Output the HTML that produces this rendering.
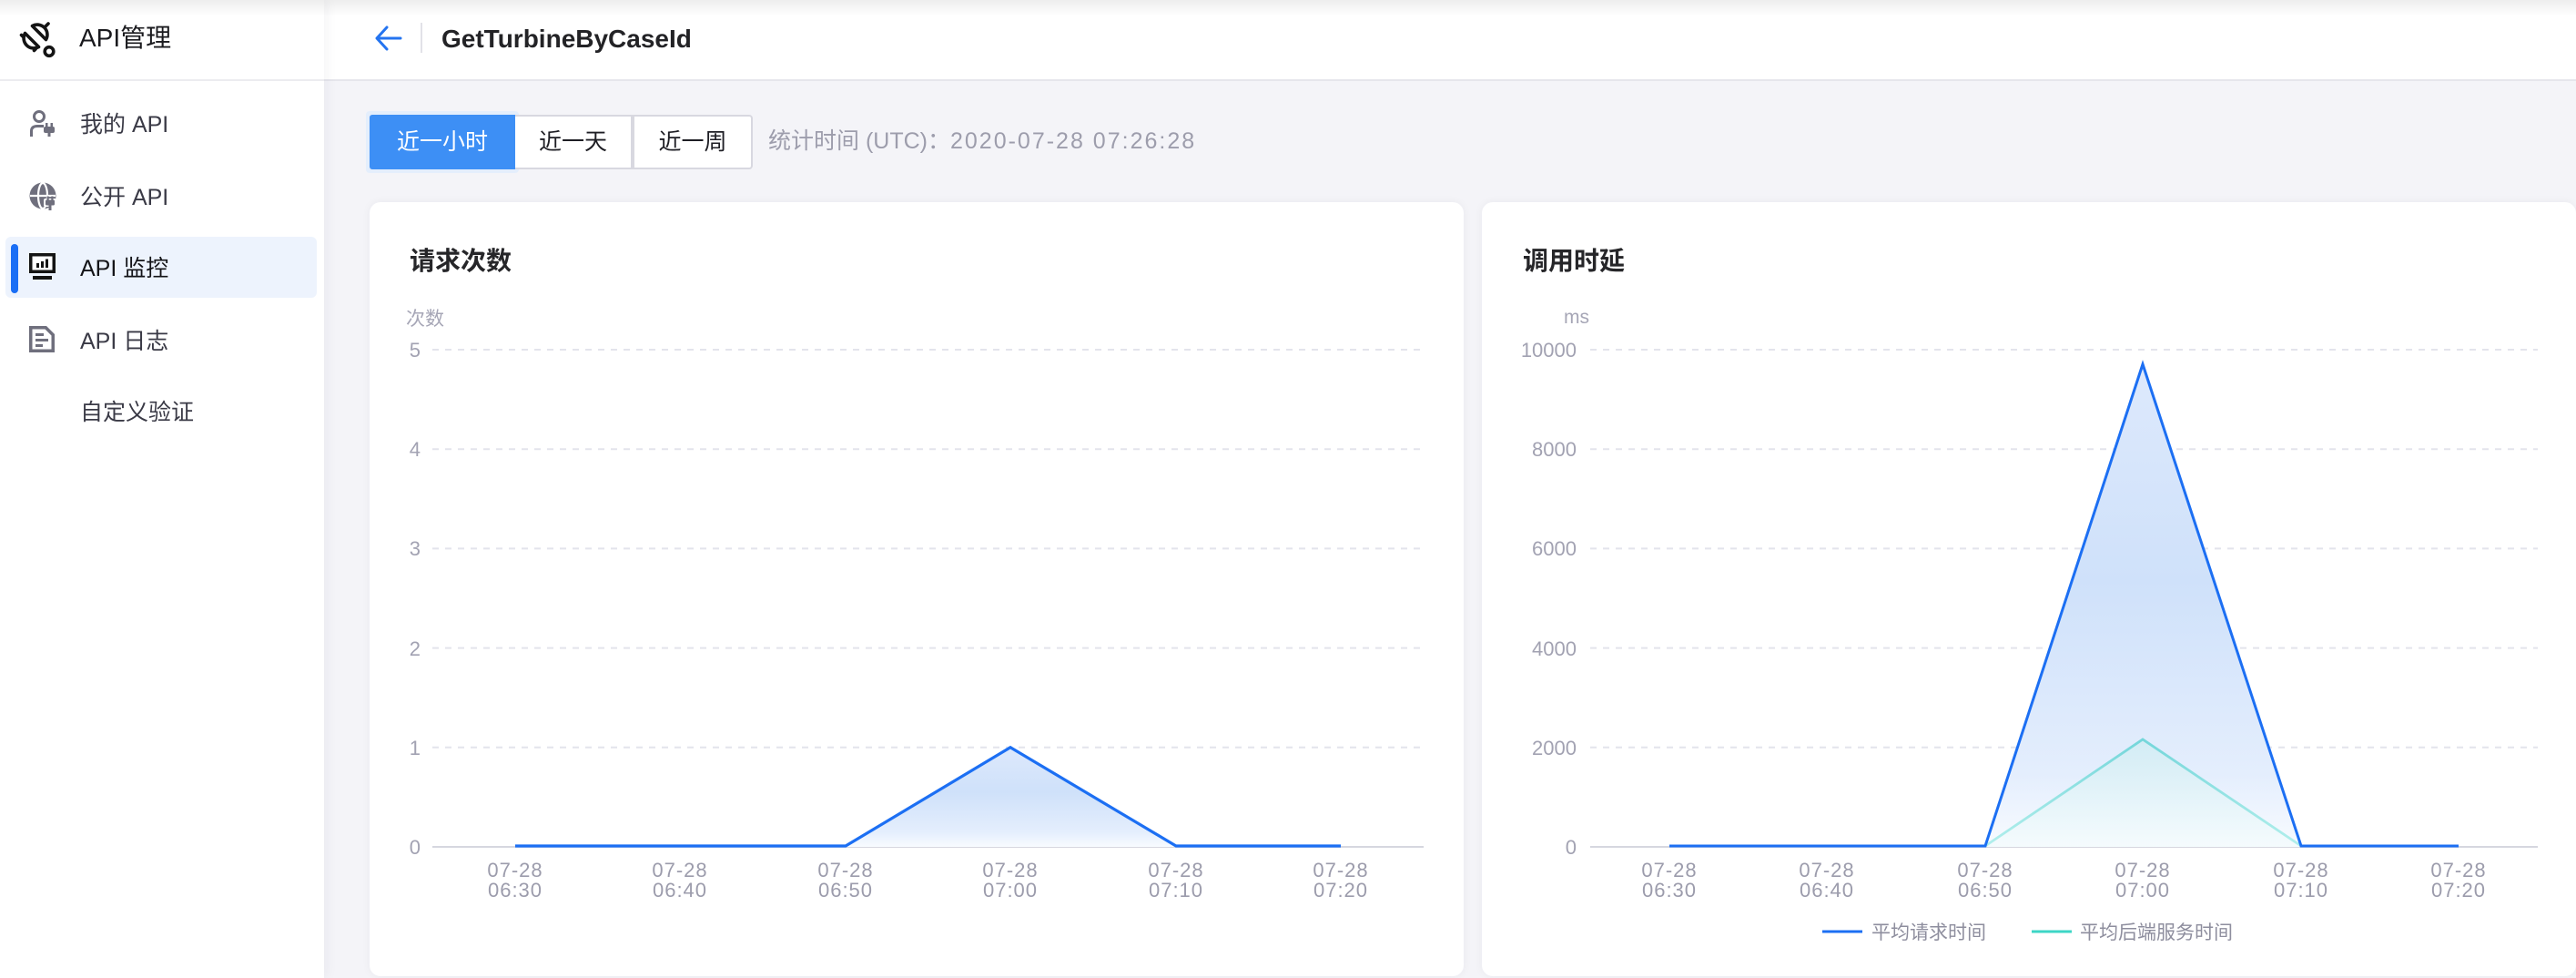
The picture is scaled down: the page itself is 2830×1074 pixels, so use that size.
<!DOCTYPE html>
<html><head><meta charset="utf-8">
<style>
*{box-sizing:border-box;margin:0;padding:0}
html,body{width:2830px;height:1074px;overflow:hidden;background:#f4f4f8;font-family:"Liberation Sans","Noto Sans CJK SC",sans-serif;position:relative}
.abs{position:absolute}
#side{left:0;top:0;width:356px;height:1074px;background:#fff;box-shadow:3px 0 12px rgba(30,30,70,0.05);z-index:2}
#logo{left:0;top:0;width:356px;height:89px;border-bottom:2px solid #ececf0}
#hdr{left:356px;top:0;width:2474px;height:89px;background:#fff;border-bottom:2px solid #e6e6ec;z-index:1}
#topsh{left:0;top:0;width:2830px;height:18px;background:linear-gradient(rgba(0,0,0,0.07),rgba(0,0,0,0));z-index:5}
.mi{position:absolute;left:88px;font-size:25px;color:#3a3a46;line-height:30px;white-space:nowrap}
.ic{position:absolute;left:32px}
.btn{position:absolute;top:126px;height:60px;line-height:56px;font-size:25px;text-align:center;color:#1e1e24;background:#fff;border:2px solid #d8d8e0}
.card{position:absolute;top:222px;width:1202px;height:850px;background:#fff;border-radius:12px;box-shadow:0 0 10px rgba(20,20,60,0.05)}
.ttl{position:absolute;top:270px;font-size:28px;font-weight:bold;color:#262629;line-height:34px;white-space:nowrap}
</style></head>
<body>
<div id="topsh" class="abs"></div>
<div id="side" class="abs">
  <div id="logo" class="abs">
    <svg class="abs" style="left:21px;top:22px" width="42" height="42" viewBox="0 0 42 42">
      <g fill="none" stroke="#141414" stroke-width="3.6" stroke-linejoin="round" stroke-linecap="round">
        <path d="M6.5 14.5 A11 11 0 0 0 21.5 29.5 Z"/>
        <path d="M14.5 6.5 A11 11 0 0 1 29.5 21.5 Z"/>
        <path d="M28 8 L32 4"/>
        <circle cx="33" cy="34.5" r="4.8"/>
        <path d="M4 18 L2.5 16.5 M18 32 L16.5 33.5"/>
      </g>
    </svg>
    <div class="abs" style="left:87px;top:26px;font-size:28px;line-height:32px;color:#1a1a1e;white-space:nowrap">API管理</div>
  </div>

  <svg class="ic" style="top:120px" width="30" height="30" viewBox="0 0 30 30">
    <circle cx="11" cy="8" r="5.5" fill="none" stroke="#6f6f7d" stroke-width="3"/>
    <path d="M2.5 30 V24 Q2.5 18.5 9 18.5 H16" fill="none" stroke="#6f6f7d" stroke-width="3"/>
    <rect x="16" y="19" width="12" height="7" rx="2" fill="#6f6f7d"/>
    <rect x="18" y="15" width="2.5" height="5" fill="#6f6f7d"/>
    <rect x="23.5" y="15" width="2.5" height="5" fill="#6f6f7d"/>
    <rect x="20.5" y="25" width="3" height="5" fill="#6f6f7d"/>
  </svg>
  <div class="mi" style="top:122px">我的 API</div>

  <svg class="ic" style="top:200px" width="31" height="31" viewBox="0 0 31 31">
    <circle cx="15" cy="15" r="14.5" fill="#6f6f7d"/>
    <ellipse cx="15" cy="15" rx="5" ry="14" fill="none" stroke="#fff" stroke-width="2.2"/>
    <path d="M1 15 H29" stroke="#fff" stroke-width="2.2"/>
    <rect x="16" y="18" width="14" height="9" rx="2" fill="#fff"/>
    <rect x="18" y="19.5" width="10" height="6" rx="1.5" fill="#6f6f7d"/>
    <rect x="19.5" y="15.5" width="2.2" height="4.5" fill="#6f6f7d"/>
    <rect x="24.3" y="15.5" width="2.2" height="4.5" fill="#6f6f7d"/>
    <rect x="21.5" y="25" width="3" height="6" fill="#6f6f7d"/>
  </svg>
  <div class="mi" style="top:202px">公开 API</div>

  <div class="abs" style="left:6px;top:260px;width:342px;height:67px;background:#edf3fd;border-radius:6px"></div>
  <div class="abs" style="left:12px;top:268px;width:8px;height:54px;background:#1a6ef5;border-radius:4px"></div>
  <svg class="ic" style="top:278px" width="29" height="29" viewBox="0 0 29 29">
    <rect x="0" y="0" width="29" height="22" fill="#141414"/>
    <rect x="3.5" y="3.5" width="22" height="15" fill="#fff"/>
    <rect x="8" y="11" width="3" height="5" fill="#141414"/>
    <rect x="13" y="9" width="3" height="7" fill="#141414"/>
    <rect x="18" y="6.5" width="3" height="9.5" fill="#141414"/>
    <rect x="4" y="25" width="21" height="4" fill="#141414"/>
  </svg>
  <div class="mi" style="top:280px;color:#141418">API 监控</div>

  <svg class="ic" style="top:358px" width="29" height="29" viewBox="0 0 29 29">
    <path d="M0 0 H19 L28 9 V29 H0 Z" fill="#6f6f7d"/>
    <path d="M3.5 3.5 H17.5 L24.5 10.5 V25.5 H3.5 Z" fill="#fff"/>
    <rect x="7" y="8" width="9" height="3" fill="#6f6f7d"/>
    <rect x="7" y="14" width="14" height="3" fill="#6f6f7d"/>
    <rect x="7" y="20" width="8" height="3" fill="#6f6f7d"/>
  </svg>
  <div class="mi" style="top:360px">API 日志</div>

  <div class="mi" style="top:438px">自定义验证</div>
</div>

<div id="hdr" class="abs">
  <svg class="abs" style="left:55px;top:27px" width="32" height="30" viewBox="0 0 32 30">
    <path d="M14 3 L3 15 L14 27 M3 15 H29" fill="none" stroke="#2474f0" stroke-width="3" stroke-linecap="round" stroke-linejoin="round"/>
  </svg>
  <div class="abs" style="left:106px;top:25px;width:2px;height:33px;background:#e2e2e8"></div>
  <div class="abs" style="left:129px;top:26px;font-size:28px;line-height:34px;font-weight:bold;color:#232326;white-space:nowrap">GetTurbineByCaseId</div>
</div>

<div class="abs" style="left:402px;top:122px;width:168px;height:68px;background:#e4eefc;border-radius:4px"></div>
<div class="abs" style="left:406px;top:126px;width:160px;height:60px;background:#3d8ff5;border-radius:3px 0 0 3px;color:#fff;font-size:25px;line-height:60px;text-align:center">近一小时</div>
<div class="btn" style="left:566px;width:129px;border-left:none">近一天</div>
<div class="btn" style="left:695px;width:132px;border-radius:0 4px 4px 0">近一周</div>
<div class="abs" style="left:844px;top:140px;font-size:25px;line-height:30px;color:#9d9dac;white-space:nowrap">统计时间 (UTC)：<span style="letter-spacing:2px">2020-07-28 07:26:28</span></div>

<div class="card" style="left:406px"></div>
<div class="card" style="left:1628px"></div>
<div class="ttl" style="left:450px">请求次数</div>
<div class="ttl" style="left:1673px">调用时延</div>

<svg class="abs" style="left:0;top:0;z-index:3" width="2830" height="1074" viewBox="0 0 2830 1074">
  <defs>
    <linearGradient id="gb" x1="0" y1="0" x2="0" y2="1">
      <stop offset="0" stop-color="#dde9fc"/>
      <stop offset="0.45" stop-color="#cfe1fa"/>
      <stop offset="0.85" stop-color="#e4eefd"/>
      <stop offset="1" stop-color="#f8fbff"/>
    </linearGradient>
    <linearGradient id="gt" x1="0" y1="0" x2="0" y2="1">
      <stop offset="0" stop-color="#d0ecf3"/>
      <stop offset="1" stop-color="#f4fbfd"/>
    </linearGradient>
    <linearGradient id="st" gradientUnits="userSpaceOnUse" x1="0" y1="812" x2="0" y2="930">
      <stop offset="0" stop-color="#74d6da"/>
      <stop offset="1" stop-color="#b2efec"/>
    </linearGradient>
  </defs>
  <g font-family="Liberation Sans, Noto Sans CJK SC, sans-serif">
  <g stroke="#e3e4ec" stroke-width="2" stroke-dasharray="7 7">
    <path d="M475 384H1564M475 493.2H1564M475 602.4H1564M475 711.6H1564M475 820.8H1564"/>
    <path d="M1747 384H2788M1747 493.2H2788M1747 602.4H2788M1747 711.6H2788M1747 820.8H2788"/>
  </g>
  <path d="M475 930H1564M1747 930H2788" stroke="#d6d7df" stroke-width="2"/>
  <text x="446" y="357" font-size="21" fill="#a6a6b6">次数</text>
  <text x="1718" y="355" font-size="21" fill="#a6a6b6">ms</text>
  <g font-size="22" fill="#a2a2b2" text-anchor="end">
    <text x="462" y="392">5</text><text x="462" y="501">4</text><text x="462" y="610">3</text>
    <text x="462" y="720">2</text><text x="462" y="829">1</text><text x="462" y="938">0</text>
    <text x="1732" y="392">10000</text><text x="1732" y="501">8000</text><text x="1732" y="610">6000</text>
    <text x="1732" y="720">4000</text><text x="1732" y="829">2000</text><text x="1732" y="938">0</text>
  </g>
  <g font-size="22" fill="#9c9cac" text-anchor="middle" letter-spacing="1">
    <text x="566" y="963">07-28</text><text x="566" y="985">06:30</text>
    <text x="747" y="963">07-28</text><text x="747" y="985">06:40</text>
    <text x="929" y="963">07-28</text><text x="929" y="985">06:50</text>
    <text x="1110" y="963">07-28</text><text x="1110" y="985">07:00</text>
    <text x="1292" y="963">07-28</text><text x="1292" y="985">07:10</text>
    <text x="1473" y="963">07-28</text><text x="1473" y="985">07:20</text>
    <text x="1834" y="963">07-28</text><text x="1834" y="985">06:30</text>
    <text x="2007" y="963">07-28</text><text x="2007" y="985">06:40</text>
    <text x="2181" y="963">07-28</text><text x="2181" y="985">06:50</text>
    <text x="2354" y="963">07-28</text><text x="2354" y="985">07:00</text>
    <text x="2528" y="963">07-28</text><text x="2528" y="985">07:10</text>
    <text x="2701" y="963">07-28</text><text x="2701" y="985">07:20</text>
  </g>
  <polygon points="929,930 1110,820.8 1292,930" fill="url(#gb)"/>
  <polyline points="566,929 747,929 929,929 1110,820.8 1292,929 1473,929" fill="none" stroke="#1c6ff3" stroke-width="3.2" stroke-linejoin="miter"/>
  <polygon points="2181,930 2354,400 2528,930" fill="url(#gb)"/>
  <polygon points="2181,930 2354,812 2528,930" fill="url(#gt)" opacity="0.85"/>
  <polyline points="1834,929 2007,929 2181,929 2354,812 2528,929 2701,929" fill="none" stroke="url(#st)" stroke-width="2.8"/>
  <polyline points="1834,929 2007,929 2181,929 2354,400 2528,929 2701,929" fill="none" stroke="#1c6ff3" stroke-width="3"/>
  <path d="M2002 1023H2046" stroke="#1c6ff3" stroke-width="3"/>
  <text x="2056" y="1031" font-size="21" fill="#8e8e9e">平均请求时间</text>
  <path d="M2232 1023H2276" stroke="#3dd6c6" stroke-width="3"/>
  <text x="2285" y="1031" font-size="21" fill="#8e8e9e">平均后端服务时间</text>
  </g>
</svg>
</body></html>
